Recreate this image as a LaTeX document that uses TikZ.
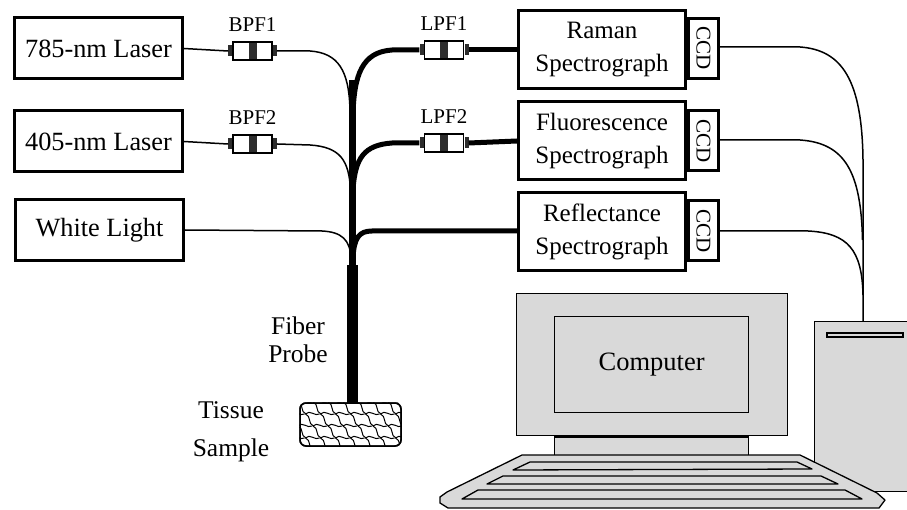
\documentclass[tikz,border=0pt]{standalone}
\usepackage{fontspec}
\setmainfont{Liberation Serif}
\usetikzlibrary{calc}
\definecolor{casegray}{RGB}{217,217,217}
\definecolor{banddark}{RGB}{45,45,45}
\begin{document}
\begin{tikzpicture}[x=1pt,y=-1pt,
  srcbox/.style={draw, line width=3pt, minimum width=168pt, minimum height=61pt,
    inner sep=0pt, font=\fontsize{26.3}{30}\selectfont},
  specbox/.style={draw, line width=3pt, minimum width=167pt, minimum height=78pt,
    inner sep=0pt, align=center, font=\fontsize{25}{33}\selectfont},
  ccdbox/.style={draw, line width=3pt, minimum width=30pt, minimum height=60pt,
    inner sep=0pt},
  ccdtext/.style={rotate=-90, font=\fontsize{21}{24}\selectfont, inner sep=0pt},
  filterbody/.style={draw, line width=1.6pt, fill=white, minimum width=39pt,
    minimum height=18pt, inner sep=0pt,
    path picture={\fill[banddark] ([xshift=-4pt]path picture bounding box.north)
      rectangle ([xshift=4pt]path picture bounding box.south);}},
  filtercap/.style={fill=banddark, minimum width=4pt, minimum height=11pt, inner sep=0pt},
  filterlabel/.style={font=\fontsize{21}{24}\selectfont, inner sep=0pt},
  thinfiber/.style={line width=1.5pt, line cap=round},
  thickfiber/.style={line width=5pt},
  cable/.style={line width=1.5pt},
  hw/.style={draw, line width=1.3pt, fill=casegray},
  plainlabel/.style={font=\fontsize{25.5}{30}\selectfont, inner sep=0pt, align=center}]

\useasboundingbox (0,0) rectangle (907,510);

% light sources
\node[srcbox] (laserA) at (98.5,48.5) {785-nm Laser};
\node[srcbox] (laserB) at (98.5,141.5) {405-nm Laser};
\node[srcbox] (white)  at (99.5,230) {White Light};

% spectrographs with their CCD cameras
\node[specbox] (raman) at (602,50)  {Raman\\Spectrograph};
\node[specbox] (fluor) at (602,141) {Fluorescence\\Spectrograph};
\node[specbox] (refl)  at (602,232) {Reflectance\\Spectrograph};
\node[ccdbox] (ccdA) at (703.5,48.5) {};
\node[ccdbox] (ccdB) at (703.5,141)  {};
\node[ccdbox] (ccdC) at (703.5,231)  {};
\node[ccdtext] at (ccdA) {CCD};
\node[ccdtext] at (ccdB) {CCD};
\node[ccdtext] at (ccdC) {CCD};

% in-line filters: body plus two end caps
\newcommand{\fiberfilter}[4]{%
  \node[filterbody] (#1) at (#2,#3) {};
  \node[filtercap, anchor=east] (#1-l) at (#1.west) {};
  \node[filtercap, anchor=west] (#1-r) at (#1.east) {};
  \node[filterlabel] (#1-lab) at (#2,#3-26) {#4};}
\fiberfilter{bpfA}{252.5}{51}{BPF1}
\fiberfilter{bpfB}{252.5}{144}{BPF2}
\fiberfilter{lpfA}{444}{50}{LPF1}
\fiberfilter{lpfB}{444}{143}{LPF2}

% fiber probe and tissue sample
\node[fill=black, minimum width=11pt, minimum height=138pt, inner sep=0pt] (probe) at (352.5,334) {};
\node[draw, line width=1.5pt, rounded corners=6pt, minimum width=101pt, minimum height=43pt,
  inner sep=0pt] (tissue) at (350.5,424.5) {};
\begin{scope}
  \clip[rounded corners=6pt] (tissue.north west) rectangle (tissue.south east);
  \foreach \j in {0,...,3}{
    \foreach \i in {-1,...,7}{
      \pgfmathsetmacro{\xo}{298+\i*15+mod(\j,2)*7.5}
      \pgfmathsetmacro{\yo}{402+\j*12}
      \draw[line width=1pt] (\xo,\yo) .. controls (\xo+4,\yo-5) and (\xo+10,\yo+3) .. (\xo+14,\yo)
        (\xo,\yo) .. controls (\xo+6,\yo+2) and (\xo+2,\yo+10) .. (\xo+8,\yo+12);
    }
  }
\end{scope}
\node[draw, line width=1.5pt, rounded corners=6pt, minimum width=101pt, minimum height=43pt,
  inner sep=0pt] at (tissue) {};
\node[plainlabel, font=\fontsize{25.5}{28}\selectfont] (probelab) at (298,340) {Fiber\\Probe};
\node[plainlabel, font=\fontsize{25.5}{38}\selectfont] (tissuelab) at (231,432) {Tissue\\Sample};

% junction coordinates on the common trunk
\coordinate (trunktop) at (352.5,80);
\coordinate (jA) at (350,110);
\coordinate (jB) at (350.5,190);
\coordinate (jC) at (351,258);

% excitation fibers (thin)
\draw[thinfiber] (laserA.east) -- (bpfA-l.west);
\draw[thinfiber] (bpfA-r.east) -- (310,51) .. controls (338,53) and (349,70) .. (jA);
\draw[thinfiber] (laserB.east) -- (bpfB-l.west);
\draw[thinfiber] (bpfB-r.east) -- (310,145) .. controls (340,147) and (349,160) .. (jB);
\draw[thinfiber] (white.east) -- (322,231) .. controls (342,232) and (350,240) .. (jC);

% collection fibers (thick)
\draw[thickfiber] (lpfA-l.west) -- (392,50) .. controls (362,52) and (354,75) .. (353,115);
\draw[thickfiber] (lpfA-r.east) -- (raman.west);
\draw[thickfiber] (lpfB-l.west) -- (392,143) .. controls (364,145) and (355,158) .. (353,190);
\draw[thickfiber] (lpfB-r.east) -- (fluor.west);
\draw[thickfiber] (refl.west |- 0,231) -- (372,231) .. controls (359,231) and (354,238) .. (353,258);
\draw[line width=6.5pt] (trunktop) -- (probe.north);

% computer tower
\node[hw, minimum width=98pt, minimum height=170pt, inner sep=0pt, anchor=north west] (tower) at (814,321) {};
\draw[hw, line width=1.2pt] (827,333) rectangle (903,337);

% data cables from the CCDs to the tower
\coordinate (towerin) at (863,321);
\draw[cable] (ccdA.east |- 0,47) -- (800,47) .. controls (842,50) and (862,80) .. (863,160) -- (towerin);
\draw[cable] (ccdB.east |- 0,140) -- (800,140) .. controls (845,143) and (861,172) .. (862.5,240);
\draw[cable] (ccdC.east |- 0,231) -- (808,231) .. controls (848,233) and (862,250) .. (863,295);

% monitor
\node[hw, minimum width=271pt, minimum height=142pt, inner sep=0pt, anchor=north west] (monitor) at (516,293) {};
\node[hw, minimum width=194pt, minimum height=96pt, inner sep=0pt, anchor=north west] (screen) at (554,316) {};
\node[plainlabel, font=\fontsize{26.5}{30}\selectfont] (complab) at (screen.center) {Computer};
\node[hw, minimum width=194pt, minimum height=19pt, inner sep=0pt, anchor=north] (neck) at (monitor.south -| screen.north) {};

% keyboard
\draw[hw, line join=round] (522,455) -- (800,455) -- (877,493) -- (885,500) -- (879,508)
  -- (448,508) -- (440,503) -- (440,497) -- (447,492) -- cycle;
\draw[hw, line join=round] (530,462) -- (797,462) -- (812,469) -- (513,470) -- cycle;
\draw[hw, line join=round] (503,476) -- (821,476) -- (838,484) -- (487,484) -- cycle;
\draw[hw, line join=round] (478,490) -- (845,490) -- (862,499) -- (462,499) -- cycle;

\end{tikzpicture}
\end{document}
